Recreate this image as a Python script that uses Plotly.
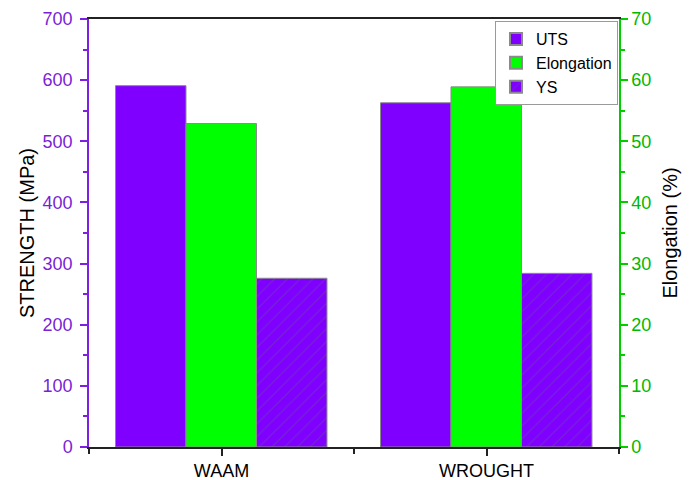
import plotly.graph_objects as go

categories = ["WAAM", "WROUGHT"]
uts = [591, 563]
elongation = [52.9, 58.9]
ys = [276, 284]

PURPLE = "#8000FF"
GREEN = "#00FF00"
PURPLE_TXT = "#7B1FD6"
GREEN_TXT = "#00B800"
GREEN_LINE = "#00CC00"
FONT = "Liberation Sans, Arial, sans-serif"

xpos = list(range(len(categories)))
w = 0.266

fig = go.Figure()
fig.add_trace(go.Bar(
    x=xpos, y=uts, name="UTS", width=w, offset=-0.4,
    marker=dict(color=PURPLE, line=dict(color="#8a8a8a", width=1)),
))
fig.add_trace(go.Bar(
    x=xpos, y=elongation, name="Elongation", width=w, offset=-0.4 + w,
    yaxis="y2",
    marker=dict(color=GREEN, line=dict(color="#8a8a8a", width=1)),
))
fig.add_trace(go.Bar(
    x=xpos, y=ys, name="YS", width=w, offset=-0.4 + 2 * w,
    marker=dict(color=PURPLE, line=dict(color="#8a8a8a", width=1),
                pattern=dict(shape="/", fgcolor="#6a4f9a", bgcolor=PURPLE,
                             size=9, solidity=0.12)),
))

fig.update_layout(
    width=696, height=480,
    margin=dict(l=89, r=77, t=19, b=33, autoexpand=False),
    paper_bgcolor="white", plot_bgcolor="white",
    font=dict(family=FONT, size=18, color="black"),
    showlegend=True,
    legend=dict(x=0.766, y=0.995, xanchor="left", yanchor="top",
                bordercolor="#9a9a9a", borderwidth=1, bgcolor="white",
                font=dict(size=16, family=FONT), tracegroupgap=0,
                itemsizing="constant", itemwidth=30),
    xaxis=dict(
        range=[-0.5, 1.5], tickmode="array", tickvals=xpos, ticktext=categories,
        automargin=False,
        showgrid=False, zeroline=False, showline=True, linecolor="#222222",
        linewidth=1.5, mirror=True, ticks="outside", ticklen=7, tickwidth=1.5,
        tickcolor="#222222",
        minor=dict(tickmode="array", tickvals=[-0.5, 0.5, 1.5], ticks="outside",
                   ticklen=5, tickwidth=1.5, tickcolor="#222222"),
        tickfont=dict(size=18, color="black"),
    ),
    yaxis=dict(
        range=[0, 700], dtick=100, showgrid=False, zeroline=False,
        automargin=False,
        showline=True, linecolor="#7F1FE0", linewidth=1.5,
        ticks="outside", ticklen=7, tickwidth=1.5, tickcolor="#7F1FE0",
        minor=dict(dtick=50, ticks="outside", ticklen=4, tickwidth=1.5,
                   tickcolor="#7F1FE0"),
        tickfont=dict(size=18, color=PURPLE_TXT),
        ticklabelstandoff=4,
        title=dict(text="STRENGTH (MPa)", font=dict(size=20, color="black"),
                   standoff=3),
    ),
    yaxis2=dict(
        range=[0, 70], dtick=10, overlaying="y", side="right",
        automargin=False,
        showgrid=False, zeroline=False,
        showline=True, linecolor=GREEN_LINE, linewidth=1.5,
        ticks="outside", ticklen=7, tickwidth=1.5, tickcolor=GREEN_LINE,
        minor=dict(dtick=5, ticks="outside", ticklen=4, tickwidth=1.5,
                   tickcolor=GREEN_LINE),
        tickfont=dict(size=18, color=GREEN_TXT),
        title=dict(text="Elongation (%)", font=dict(size=20, color="black"),
                   standoff=13),
    ),
)

fig.write_html("out.html",
               config={"displayModeBar": False},
               post_script="document.body.style.margin='0';"
                           "document.body.style.overflow='hidden';")
